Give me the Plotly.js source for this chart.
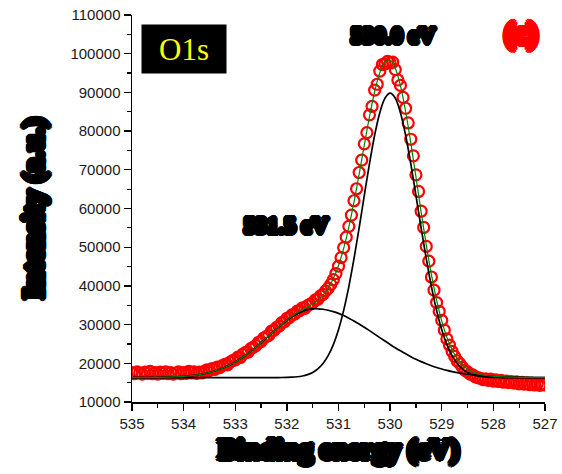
<!DOCTYPE html>
<html>
<head>
<meta charset="utf-8">
<script src="https://cdn.plot.ly/plotly-3.0.1.min.js"></script>
<style>
  html, body { margin: 0; padding: 0; background: #fff; }
  #chart { width: 562px; height: 474px; }
</style>
</head>
<body>
<div id="chart"></div>
<script>
// O 1s core-level spectrum: measured counts every 0.05 eV from 535 eV down to 527 eV
const energyStart = 535;
const energyStepData = -0.05;
const intensity = [
  17600,17300,17800,17500,17200,17700,17400,17900,17300,17600,
  17200,17700,17400,17800,17300,17600,17200,17500,17800,17300,
  17600,17400,17900,17500,17800,17400,17700,17500,17900,18300,
  18100,18600,18400,19000,18900,19400,19700,19600,20300,20700,
  20900,21600,21500,22400,22800,22900,23800,24100,24600,25400,
  25600,26500,26900,27200,28300,28500,29300,29600,30500,30700,
  31600,31800,32500,32700,33500,33600,34300,34200,34900,35300,
  35600,36400,36500,37400,37800,38700,39400,40400,41600,43200,
  45100,47300,49900,52600,55400,58300,62000,65100,69300,72500,
  76700,79600,84200,86400,90600,92100,95500,97200,97400,98000,
  97600,97800,95900,93200,91800,88700,85900,82100,77900,73600,
  68700,64400,59300,55100,50200,46400,42300,38900,35700,33400,
  31100,28600,26300,24700,23100,21800,20600,19900,19000,18200,
  17800,17200,17000,16500,16300,16100,15800,16000,15600,15900,
  15400,15700,15300,15600,15100,15400,15000,15300,14900,15200,
  14700,15100,14600,14900,14500,14800,14400,14700,14300,14600,
  14400
];

// Fitted components and their sum, sampled every 0.1 eV over the same window
const energyStepFit = -0.1;
const peak530 = [
  16300,16300,16300,16300,16300,16300,16300,16300,16300,16300,
  16300,16300,16300,16300,16300,16300,16300,16300,16300,16300,
  16300,16300,16300,16300,16300,16300,16303,16306,16313,16329,
  16360,16419,16530,16729,17071,17639,18544,19931,21967,24833,
  28692,33683,39827,47023,55027,63399,71587,78922,84751,88506,
  89800,88506,84751,78922,71587,63399,55027,47023,39827,33683,
  28692,24833,21967,19931,18544,17639,17071,16729,16530,16419,
  16360,16329,16313,16306,16303,16300,16300,16300,16300,16300,
  16300
];
const peak531 = [
  16307,16311,16317,16326,16339,16357,16383,16418,16467,16533,
  16621,16738,16889,17082,17326,17630,18002,18452,18988,19616,
  20340,21162,22079,23084,24168,25313,26498,27696,28878,30014,
  31068,32008,32804,33426,33855,34073,34085,33962,33718,33359,
  32891,32325,31671,30942,30151,29311,28439,27546,26647,25753,
  24877,24029,23216,22446,21724,21053,20437,19876,19370,18916,
  18514,18162,17854,17588,17361,17167,17004,16868,16755,16662,
  16586,16524,16474,16435,16404,16379,16360,16345,16334,16325,
  16318
];
const envelope = [
  16307,16311,16317,16326,16339,16357,16383,16418,16467,16533,
  16621,16738,16889,17082,17326,17630,18002,18452,18988,19616,
  20340,21162,22079,23084,24168,25313,26501,27702,28891,30043,
  31128,32127,33034,33855,34626,35412,36329,37593,39385,41892,
  45283,49708,55198,61665,68878,76410,83726,90168,95098,97959,
  98377,96235,91667,85068,77011,68152,59164,50599,42897,36299,
  30906,26695,23521,21219,19605,18506,17775,17297,16985,16781,
  16646,16553,16487,16441,16407,16379,16360,16345,16334,16325,
  16318
];

const xRange = [535, 527];
const yRange = [10000, 110000];
const peakLabels = ['530.0 eV', '531.5 eV'];

// heavy, smudged lettering used for the axis titles and peak labels:
// the glyph outline is thickened by a ring of solid shadows
function heavyShadow(color, r) {
  const s = [];
  for (let k = 0; k < 16; k++) {
    const a = k * Math.PI / 8;
    s.push((Math.cos(a) * r).toFixed(2) + 'px ' + (Math.sin(a) * r).toFixed(2) + 'px 0.6px ' + color);
  }
  for (let k = 0; k < 8; k++) {
    const a = k * Math.PI / 4 + Math.PI / 8;
    s.push((Math.cos(a) * r * 0.55).toFixed(2) + 'px ' + (Math.sin(a) * r * 0.55).toFixed(2) + 'px 0 ' + color);
  }
  return s.join(', ');
}
const heavyFont = (size, color, r) => ({
  family: 'Liberation Serif, Times New Roman, serif',
  size: size, color: color, weight: 900, shadow: heavyShadow(color, r)
});

const traces = [
  {
    type: 'scatter', mode: 'markers',
    x0: energyStart, dx: energyStepData, y: intensity,
    marker: { symbol: 'circle-open', size: 11, color: '#ff0000', line: { width: 2.2, color: '#ff0000' } },
    hoverinfo: 'skip'
  },
  {
    type: 'scatter', mode: 'lines',
    x0: energyStart, dx: energyStepFit, y: peak530,
    line: { color: '#000', width: 1.7, shape: 'spline', smoothing: 1 }, hoverinfo: 'skip'
  },
  {
    type: 'scatter', mode: 'lines',
    x0: energyStart, dx: energyStepFit, y: peak531,
    line: { color: '#000', width: 1.7, shape: 'spline', smoothing: 1 }, hoverinfo: 'skip'
  },
  {
    type: 'scatter', mode: 'lines',
    x0: energyStart, dx: energyStepFit, y: envelope,
    line: { color: '#008000', width: 1.2, shape: 'spline', smoothing: 1 }, hoverinfo: 'skip'
  }
];

const tickFont = { family: 'Liberation Sans, Arial, sans-serif', size: 15, color: '#1a1a1a' };

const layout = {
  width: 562, height: 474,
  margin: { l: 132, r: 17, t: 15, b: 72 },
  paper_bgcolor: '#fff', plot_bgcolor: '#fff',
  showlegend: false,
  xaxis: {
    range: xRange, tick0: 527, dtick: 1,
    ticks: 'outside', ticklen: 7, tickwidth: 1.3, tickcolor: '#000',
    minor: { dtick: 0.5, ticks: 'outside', ticklen: 4, tickwidth: 1.2, tickcolor: '#000', showgrid: false },
    showline: true, linecolor: '#000', linewidth: 1.5,
    showgrid: false, zeroline: false,
    tickfont: tickFont,
    title: { text: 'Binding energy (eV)', font: heavyFont(28, '#000', 3.2), standoff: 8 }
  },
  yaxis: {
    range: yRange, tick0: 10000, dtick: 10000, tickformat: 'd',
    ticks: 'outside', ticklen: 7, tickwidth: 1.3, tickcolor: '#000',
    minor: { dtick: 5000, ticks: 'outside', ticklen: 4, tickwidth: 1.2, tickcolor: '#000', showgrid: false },
    showline: true, linecolor: '#000', linewidth: 1.5,
    showgrid: false, zeroline: false,
    tickfont: tickFont,
    title: { text: 'Intensity (a.u.)', font: heavyFont(29, '#000', 3.2), standoff: 18 }
  },
  xaxis2: {
    overlaying: 'x', anchor: 'y', side: 'top', range: xRange, dtick: 0.5,
    ticks: 'inside', ticklen: 4, tickwidth: 1.2, tickcolor: '#000',
    showline: true, linecolor: '#000', linewidth: 1.5,
    showticklabels: false, showgrid: false, zeroline: false
  },
  yaxis2: {
    overlaying: 'y', anchor: 'x', side: 'right', range: yRange, dtick: 5000,
    ticks: 'inside', ticklen: 4, tickwidth: 1.2, tickcolor: '#000',
    showline: true, linecolor: '#000', linewidth: 1.5,
    showticklabels: false, showgrid: false, zeroline: false
  },
  annotations: [
    {
      xref: 'paper', yref: 'paper', x: 0.126, y: 0.912, xanchor: 'center', yanchor: 'middle',
      text: 'O1s', showarrow: false, bgcolor: '#000', width: 80, height: 44, borderpad: 2,
      font: { family: 'Liberation Serif, Times New Roman, serif', size: 31, color: '#ffff00' }
    },
    {
      xref: 'paper', yref: 'paper', x: 0.634, y: 0.946, xanchor: 'center', yanchor: 'middle',
      text: peakLabels[0], showarrow: false, font: heavyFont(23, '#000', 2.8)
    },
    {
      xref: 'paper', yref: 'paper', x: 0.375, y: 0.455, xanchor: 'center', yanchor: 'middle',
      text: peakLabels[1], showarrow: false, font: heavyFont(23, '#000', 2.8)
    },
    {
      xref: 'paper', yref: 'paper', x: 0.942, y: 0.952, xanchor: 'center', yanchor: 'middle',
      text: '(c)', showarrow: false, font: heavyFont(29, '#ff0000', 3.8)
    }
  ]
};

Plotly.newPlot('chart', traces, layout, { staticPlot: true, displayModeBar: false });
</script>
</body>
</html>
